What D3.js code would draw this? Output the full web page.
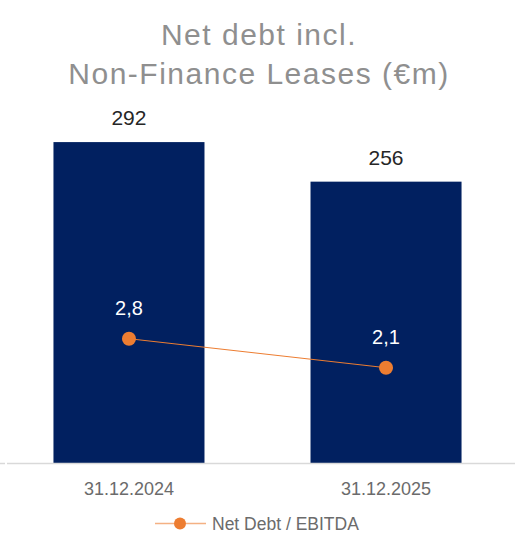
<!DOCTYPE html>
<html>
<head>
<meta charset="utf-8">
<script src="https://cdn.jsdelivr.net/npm/d3@7"></script>
<style>
  body { margin: 0; background: #fff; }
  text { font-family: "Liberation Sans", Arial, sans-serif; }
</style>
</head>
<body>
<div id="chart"></div>
<script>
// data
const categories = ["31.12.2024", "31.12.2025"];
const netDebt = [292, 256];
const leverage = [2.8, 2.1];
const titleLines = ["Net debt incl.", "Non-Finance Leases (€m)"];
const legendLabel = "Net Debt / EBITDA";

const W = 518, H = 548;
const baseY = 463;

const svg = d3.select("#chart")
  .append("svg")
  .attr("width", W)
  .attr("height", H)
  .attr("viewBox", [0, 0, W, H]);

// title
svg.append("g")
  .selectAll("text")
  .data(titleLines)
  .join("text")
  .attr("x", 259)
  .attr("y", (d, i) => 45 + i * 39)
  .attr("text-anchor", "middle")
  .attr("font-size", 30)
  .attr("letter-spacing", 1.5)
  .attr("fill", "#8f8f8f")
  .text(d => d);

// x scale
const xScale = d3.scaleBand()
  .domain(categories)
  .range([0, 515])
  .paddingInner(0.4125)
  .paddingOuter(0.208);

// bar scale (primary)
const yScale = d3.scaleLinear()
  .domain([0, 300])
  .range([baseY, baseY - 300 * 1.099]);

// line scale (secondary)
const y2Scale = d3.scaleLinear()
  .domain([-0.2, 7.8])
  .range([baseY, baseY - 8 * 41.43]);

// bars
svg.append("g")
  .selectAll("rect")
  .data(netDebt)
  .join("rect")
  .attr("fill", "#012060")
  .attr("x", (d, i) => xScale(categories[i]))
  .attr("y", d => yScale(d))
  .attr("width", xScale.bandwidth())
  .attr("height", d => baseY - yScale(d));

// bar value labels
svg.append("g")
  .selectAll("text")
  .data(netDebt)
  .join("text")
  .attr("x", (d, i) => xScale(categories[i]) + xScale.bandwidth() / 2)
  .attr("y", d => yScale(d) - 17)
  .attr("text-anchor", "middle")
  .attr("font-size", 21)
  .attr("fill", "#262626")
  .text(d => d);

// x axis
svg.append("g")
  .attr("transform", `translate(0,${baseY})`)
  .call(d3.axisBottom(xScale).tickSize(0).tickPadding(19))
  .call(g => g.select(".domain").remove())
  .call(g => g.selectAll("text")
    .attr("font-size", 18)
    .attr("font-family", "Liberation Sans, Arial, sans-serif")
    .attr("fill", "#6b6b6b"));

svg.append("line")
  .attr("x1", 7).attr("x2", 515)
  .attr("y1", baseY + 0.5).attr("y2", baseY + 0.5)
  .attr("stroke", "#d9d9d9")
  .attr("stroke-width", 1.5);
svg.append("line")
  .attr("x1", 0).attr("x2", 5)
  .attr("y1", baseY + 0.5).attr("y2", baseY + 0.5)
  .attr("stroke", "#d9d9d9")
  .attr("stroke-width", 1.5);

// leverage line
const cx = (d, i) => xScale(categories[i]) + xScale.bandwidth() / 2;
const line = d3.line()
  .x((d, i) => cx(d, i))
  .y(d => y2Scale(d));

svg.append("path")
  .datum(leverage)
  .attr("d", line)
  .attr("fill", "none")
  .attr("stroke", "#ed7d31")
  .attr("stroke-width", 1);

svg.append("g")
  .selectAll("circle")
  .data(leverage)
  .join("circle")
  .attr("cx", cx)
  .attr("cy", d => y2Scale(d))
  .attr("r", 7)
  .attr("fill", "#ed7d31");

svg.append("g")
  .selectAll("text")
  .data(leverage)
  .join("text")
  .attr("x", cx)
  .attr("y", d => y2Scale(d) - 23.5)
  .attr("text-anchor", "middle")
  .attr("font-size", 20)
  .attr("fill", "#ffffff")
  .text(d => d3.format(".1f")(d).replace(".", ","));

// legend
const legend = svg.append("g").attr("transform", "translate(155,523)");
legend.append("line")
  .attr("x1", 0).attr("x2", 51)
  .attr("y1", 0.5).attr("y2", 0.5)
  .attr("stroke", "#f4b183")
  .attr("stroke-width", 1.5);
legend.append("circle")
  .attr("cx", 25).attr("cy", 0.5)
  .attr("r", 6)
  .attr("fill", "#ed7d31");
legend.append("text")
  .attr("x", 57)
  .attr("y", 7)
  .attr("font-size", 17.5)
  .attr("fill", "#6b6b6b")
  .text(legendLabel);
</script>
</body>
</html>
